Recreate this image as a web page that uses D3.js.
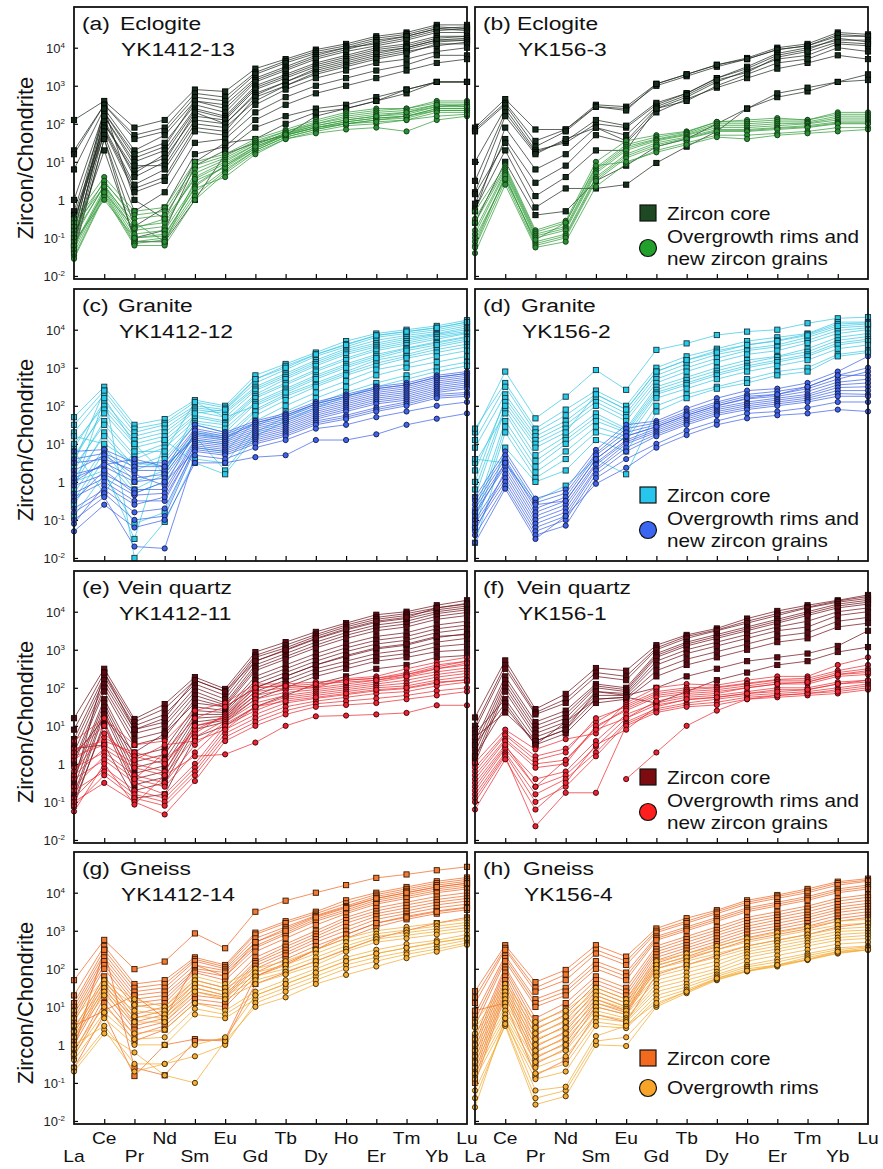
<!DOCTYPE html>
<html>
<head>
<meta charset="utf-8">
<script src="https://cdn.jsdelivr.net/npm/d3@7"></script>
<style>
body { margin: 0; background: #fff; }
svg { display: block; }
</style>
</head>
<body>
<svg id="chart" width="883" height="1169"></svg>
<script>
// REE order on the x axis
var elements = ['La', 'Ce', 'Pr', 'Nd', 'Sm', 'Eu', 'Gd', 'Tb', 'Dy', 'Ho', 'Er', 'Tm', 'Yb', 'Lu'];
var yTicks = [1e-2, 1e-1, 1, 1e1, 1e2, 1e3, 1e4];
var yTickExp = ['-2', '-1', '', '1', '2', '3', '4'];

// values are log10(zircon/chondrite), one row per analysis
var aCore = [
  [2.1, 2.6, 1.9, 2.1, 2.9, 2.85, 3.45, 3.7, 3.95, 4.1, 4.3, 4.4, 4.6, 4.6],
  [1.3, 2.5, 1.7, 1.9, 2.8, 2.7, 3.35, 3.65, 3.9, 4.05, 4.25, 4.35, 4.55, 4.5],
  [1.2, 2.5, 1.6, 1.8, 2.7, 2.6, 3.3, 3.6, 3.85, 4.0, 4.2, 4.3, 4.5, 4.55],
  [0.8, 2.4, 1.3, 1.7, 2.6, 2.5, 3.2, 3.5, 3.8, 4.0, 4.1, 4.25, 4.45, 4.5],
  [-0.9, 2.3, 1.1, 1.4, 2.6, 2.4, 3.15, 3.45, 3.75, 3.95, 4.15, 4.3, 4.5, 4.45],
  [0.0, 2.3, 1.2, 1.5, 2.5, 2.3, 3.1, 3.4, 3.7, 3.9, 4.05, 4.2, 4.4, 4.4],
  [-0.3, 2.2, 1.0, 1.3, 2.4, 2.2, 3.0, 3.3, 3.6, 3.8, 4.0, 4.1, 4.3, 4.3],
  [-1.1, 2.0, 0.7, 1.2, 2.35, 2.15, 2.95, 3.25, 3.55, 3.75, 3.95, 4.05, 4.25, 4.3],
  [-0.6, 2.0, 0.8, 1.1, 2.2, 2.1, 2.9, 3.2, 3.5, 3.7, 3.9, 4.0, 4.2, 4.25],
  [-0.8, 2.1, 0.6, 1.0, 2.3, 2.0, 2.8, 3.1, 3.4, 3.6, 3.8, 3.95, 4.15, 4.2],
  [-1.2, 2.2, 0.9, 0.9, 2.1, 2.0, 2.75, 3.1, 3.45, 3.65, 3.85, 4.0, 4.2, 4.2],
  [-0.4, 1.85, 0.3, 0.6, 1.9, 1.8, 2.7, 3.0, 3.35, 3.55, 3.75, 3.9, 4.05, 4.15],
  [-1.0, 1.9, 0.4, 0.8, 2.0, 1.9, 2.6, 3.0, 3.3, 3.5, 3.7, 3.85, 4.1, 4.1],
  [-1.2, 1.8, 0.2, 0.5, 1.8, 1.7, 2.5, 2.9, 3.2, 3.4, 3.6, 3.7, 3.9, 4.0],
  [-0.5, 1.7, -0.3, 0.2, 1.5, 1.6, 2.3, 2.7, 3.0, 3.2, 3.4, 3.55, 3.8, 3.8],
  [-1.3, 1.6, -0.7, -0.2, 1.2, 1.4, 2.1, 2.5, 2.8, 3.0, 3.2, 3.4, 3.6, 3.7],
  [-1.0, 1.3, -1.0, -0.8, 0.9, 1.3, 1.9, 2.2, 2.4, 2.5, 2.7, 2.9, 3.1, 3.1],
  [-1.4, 1.6, -1.1, -1.1, 0.0, 1.2, 1.5, 1.7, 2.2, 2.4, 2.6, 2.8, 3.1, 3.1],
  [-0.7, 2.4, 0.0, -0.5, 1.0, 1.5, 1.6, 2.0, 2.3, 2.4, 2.6, 2.9, 3.1, 3.1]
];
var aRim = [
  [-0.5, 0.6, -0.3, -0.2, 1.0, 1.2, 1.6, 1.85, 2.1, 2.3, 2.4, 2.4, 2.6, 2.6],
  [-0.6, 0.45, -0.4, -0.3, 0.9, 1.15, 1.55, 1.8, 2.05, 2.25, 2.35, 2.4, 2.55, 2.55],
  [-0.8, 0.5, -0.5, -0.4, 0.8, 1.1, 1.5, 1.8, 2.0, 2.2, 2.3, 2.35, 2.5, 2.5],
  [-0.9, 0.35, -0.8, -0.7, 0.7, 1.05, 1.45, 1.75, 2.0, 2.15, 2.25, 2.3, 2.45, 2.5],
  [-1.0, 0.4, -0.7, -0.6, 0.6, 1.0, 1.45, 1.75, 1.95, 2.1, 2.2, 2.25, 2.45, 2.45],
  [-1.2, 0.3, -0.9, -0.8, 0.4, 0.9, 1.4, 1.7, 1.9, 2.05, 2.15, 2.2, 2.4, 2.4],
  [-1.3, 0.25, -1.0, -0.95, 0.35, 0.9, 1.35, 1.7, 1.9, 2.05, 2.15, 2.2, 2.4, 2.4],
  [-1.4, 0.2, -1.1, -1.0, 0.2, 0.8, 1.3, 1.65, 1.85, 2.0, 2.1, 2.15, 2.35, 2.35],
  [-1.5, 0.15, -1.15, -1.05, 0.1, 0.75, 1.3, 1.65, 1.85, 2.0, 2.1, 2.2, 2.35, 2.35],
  [-1.55, 0.1, -1.2, -1.2, 0.0, 0.7, 1.25, 1.6, 1.8, 1.95, 2.0, 2.1, 2.3, 2.3],
  [-1.1, 0.0, -1.0, -0.9, 0.3, 0.6, 1.2, 1.6, 1.75, 1.85, 1.9, 1.8, 2.1, 2.2],
  [-0.7, 0.35, -0.6, -1.1, 0.5, 0.85, 1.35, 1.7, 1.9, 2.0, 2.05, 2.1, 2.2, 2.25],
  [-1.2, 0.2, -0.75, -0.5, 0.55, 0.95, 1.4, 1.72, 1.95, 2.1, 2.2, 2.3, 2.5, 2.45]
];
var bCore = [
  [1.9, 2.65, 1.85, 1.85, 2.5, 2.45, 3.05, 3.3, 3.55, 3.73, 4.0, 4.1, 4.4, 4.35],
  [1.85, 2.55, 1.55, 1.85, 2.45, 2.4, 3.0, 3.25, 3.5, 3.7, 3.95, 4.05, 4.3, 4.3],
  [1.8, 2.5, 1.4, 1.8, 2.45, 2.35, 3.05, 3.3, 3.55, 3.7, 3.95, 4.05, 4.35, 4.3],
  [1.0, 2.4, 1.3, 1.5, 2.0, 1.9, 2.5, 2.8, 3.2, 3.5, 3.85, 4.0, 4.2, 4.2],
  [0.5, 2.3, 1.25, 1.55, 2.1, 1.95, 2.55, 2.8, 3.2, 3.45, 3.8, 3.95, 4.25, 4.15],
  [0.2, 2.2, 1.2, 1.6, 1.9, 1.55, 2.4, 2.7, 3.1, 3.4, 3.7, 3.8, 4.1, 4.05],
  [-0.3, 1.9, 0.8, 1.2, 1.9, 1.7, 2.45, 2.75, 3.15, 3.35, 3.75, 3.9, 4.15, 4.1],
  [-0.1, 1.6, 0.45, 0.9, 1.7, 1.5, 2.3, 2.65, 2.95, 3.2, 3.45, 3.6, 3.8, 3.7],
  [0.15, 1.5, 0.1, 0.6, 1.3, 1.3, 2.4, 2.6, 3.0, 3.3, 3.6, 3.7, 4.0, 3.9],
  [-0.25, 1.3, -0.2, 0.3, 0.3, 0.4, 0.97, 1.4, 1.8, 2.4, 2.7, 2.85, 3.1, 3.3],
  [-0.6, 1.0, -0.4, -0.3, 0.5, 0.9, 1.4, 1.6, 2.0, 2.4, 2.8, 2.95, 3.1, 3.15]
];
var bRim = [
  [-0.3, 0.9, -0.8, -0.55, 1.0, 1.55, 1.7, 1.8, 2.05, 2.1, 2.15, 2.1, 2.3, 2.3],
  [-0.5, 0.85, -0.85, -0.6, 0.85, 1.45, 1.65, 1.78, 2.05, 2.05, 2.1, 2.1, 2.25, 2.25],
  [-0.6, 0.8, -0.9, -0.7, 0.8, 1.4, 1.6, 1.75, 2.0, 2.0, 2.05, 2.05, 2.2, 2.2],
  [-0.8, 0.75, -0.95, -0.75, 0.75, 1.35, 1.58, 1.72, 1.95, 1.95, 2.0, 2.02, 2.15, 2.15],
  [-0.9, 0.7, -1.0, -0.8, 0.7, 1.3, 1.55, 1.7, 1.9, 1.9, 1.95, 2.0, 2.1, 2.1],
  [-1.1, 0.6, -1.1, -0.9, 0.6, 1.2, 1.5, 1.65, 1.85, 1.85, 1.9, 1.95, 2.05, 2.05],
  [-1.2, 0.65, -1.15, -0.95, 0.55, 1.15, 1.45, 1.62, 1.82, 1.82, 1.88, 1.92, 2.02, 2.02],
  [-1.25, 0.5, -1.2, -1.0, 0.5, 1.1, 1.4, 1.6, 1.8, 1.8, 1.85, 1.9, 2.0, 2.0],
  [-1.4, 0.4, -1.25, -1.1, 0.35, 0.95, 1.3, 1.5, 1.7, 1.7, 1.75, 1.8, 1.9, 1.9],
  [-1.0, 0.55, -1.05, -0.6, 0.9, 1.0, 1.25, 1.45, 1.65, 1.6, 1.7, 1.75, 1.8, 1.85]
];
var cCore = [
  [1.7, 2.5, 1.5, 1.65, 2.15, 2.0, 2.8, 3.1, 3.4, 3.7, 3.9, 4.0, 4.1, 4.25],
  [1.5, 2.4, 1.4, 1.55, 2.1, 1.95, 2.7, 3.05, 3.35, 3.62, 3.85, 3.95, 4.05, 4.2],
  [1.3, 2.3, 1.3, 1.5, 2.0, 1.9, 2.6, 2.95, 3.3, 3.55, 3.8, 3.9, 4.0, 4.15],
  [0.9, 2.1, 1.2, 1.4, 1.95, 1.85, 2.5, 2.85, 3.2, 3.5, 3.72, 3.85, 3.95, 4.1],
  [1.0, 2.0, 1.1, 1.3, 1.9, 1.8, 2.45, 2.8, 3.15, 3.45, 3.65, 3.8, 3.9, 4.05],
  [0.6, 1.9, 1.0, 1.2, 1.85, 1.7, 2.4, 2.75, 3.1, 3.4, 3.6, 3.75, 3.88, 4.0],
  [0.7, 1.8, 0.9, 1.1, 1.75, 1.6, 2.3, 2.7, 3.05, 3.35, 3.55, 3.7, 3.85, 3.95],
  [0.3, 1.6, 0.7, 1.0, 1.7, 1.55, 2.25, 2.6, 2.95, 3.25, 3.5, 3.65, 3.8, 3.92],
  [0.4, 1.5, 0.6, 0.9, 1.6, 1.5, 2.2, 2.55, 2.9, 3.2, 3.45, 3.6, 3.75, 3.9],
  [-0.1, 1.3, 0.4, 0.7, 1.55, 1.4, 2.1, 2.45, 2.8, 3.1, 3.35, 3.52, 3.68, 3.82],
  [0.1, 1.2, 0.3, 0.6, 1.5, 1.3, 2.05, 2.4, 2.75, 3.05, 3.3, 3.5, 3.65, 3.8],
  [-0.3, 0.9, 0.0, 0.3, 1.3, 1.2, 1.9, 2.3, 2.6, 2.9, 3.2, 3.35, 3.55, 3.7],
  [-0.5, 0.8, -0.2, 0.2, 1.25, 1.1, 1.85, 2.25, 2.55, 2.85, 3.12, 3.3, 3.48, 3.62],
  [-0.6, 0.6, -0.3, 0.0, 1.1, 1.0, 1.75, 2.15, 2.5, 2.8, 3.05, 3.25, 3.4, 3.55],
  [-0.9, 0.2, -1.1, -0.8, 0.9, 0.8, 1.6, 2.0, 2.35, 2.65, 2.95, 3.1, 3.3, 3.45],
  [0.5, 2.4, -2.0, -1.05, 0.6, 0.5, 1.45, 1.85, 2.2, 2.5, 2.8, 3.0, 3.15, 3.3],
  [1.2, 1.0, 0.5, 0.4, 1.2, 0.3, 1.3, 1.7, 2.05, 2.35, 2.6, 2.8, 3.0, 3.15],
  [0.0, 0.3, -1.5, 1.1, 0.5, 0.2, 1.2, 1.6, 1.95, 2.25, 2.5, 2.7, 2.9, 3.05],
  [-0.2, 2.2, 1.0, 0.2, 1.8, 1.9, 2.7, 3.0, 3.35, 3.6, 3.85, 3.95, 4.05, 4.2],
  [0.8, -0.3, 0.8, 0.8, 2.1, 1.7, 2.0, 2.35, 2.7, 3.0, 3.25, 3.45, 3.6, 3.75]
];
var cRim = [
  [0.8, 0.85, 0.5, 0.5, 1.5, 1.3, 1.6, 1.8, 2.1, 2.3, 2.5, 2.6, 2.8, 2.9],
  [0.6, 0.75, 0.4, 0.4, 1.4, 1.25, 1.55, 1.75, 2.05, 2.25, 2.45, 2.55, 2.75, 2.85],
  [0.3, 0.7, 0.2, -0.1, 1.3, 1.15, 1.55, 1.75, 2.05, 2.25, 2.45, 2.55, 2.75, 2.85],
  [0.5, 0.6, 0.3, 0.3, 1.35, 1.2, 1.5, 1.7, 2.0, 2.2, 2.4, 2.5, 2.7, 2.8],
  [0.0, 0.5, 0.1, 0.2, 1.25, 1.15, 1.45, 1.65, 1.95, 2.15, 2.35, 2.45, 2.65, 2.75],
  [0.2, 0.4, 0.0, 0.1, 1.2, 1.1, 1.4, 1.6, 1.9, 2.1, 2.3, 2.4, 2.6, 2.7],
  [0.1, 0.45, 0.6, 0.4, 1.15, 1.05, 1.35, 1.55, 1.85, 2.05, 2.25, 2.35, 2.55, 2.65],
  [-0.1, 0.2, -0.2, -0.2, 1.1, 1.0, 1.3, 1.5, 1.8, 2.0, 2.2, 2.3, 2.5, 2.6],
  [-0.3, 0.1, -0.35, -0.3, 1.05, 0.95, 1.25, 1.45, 1.75, 1.95, 2.15, 2.25, 2.45, 2.55],
  [-0.4, 0.0, -0.5, -0.5, 1.0, 0.9, 1.2, 1.4, 1.7, 1.9, 2.1, 2.2, 2.4, 2.5],
  [-1.1, -0.1, -0.6, -0.4, 0.95, 0.85, 1.15, 1.35, 1.65, 1.85, 2.05, 2.15, 2.35, 2.45],
  [-0.7, -0.2, -0.8, -0.7, 0.9, 0.8, 1.1, 1.3, 1.6, 1.75, 1.95, 2.1, 2.3, 2.35],
  [-0.8, -0.3, -1.0, -0.9, 0.85, 0.75, 1.05, 1.25, 1.55, 1.7, 1.9, 2.05, 2.25, 2.3],
  [-0.5, 0.3, -0.3, 0.0, 0.8, 0.7, 1.0, 1.2, 1.5, 1.65, 1.85, 2.0, 2.2, 2.25],
  [-1.0, -0.4, -1.7, -1.75, 0.7, 0.6, 0.9, 1.1, 1.4, 1.5, 1.7, 1.85, 2.0, 2.1],
  [-1.3, -0.6, -1.2, -1.0, 0.5, 0.5, 0.65, 0.7, 1.1, 1.1, 1.25, 1.5, 1.66, 1.8]
];
var dCore = [
  [1.3, 2.9, 1.67, 2.24, 2.94, 2.42, 3.47, 3.64, 3.86, 3.95, 4.0, 4.17, 4.3, 4.33],
  [1.4, 2.6, 1.4, 1.9, 2.4, 2.0, 3.0, 3.3, 3.5, 3.7, 3.8, 3.9, 4.2, 4.2],
  [1.1, 2.5, 1.3, 1.75, 2.3, 1.9, 2.9, 3.2, 3.45, 3.6, 3.72, 3.88, 4.15, 4.18],
  [0.9, 2.3, 1.2, 1.6, 2.2, 1.8, 2.8, 3.1, 3.35, 3.5, 3.6, 3.8, 4.05, 4.1],
  [0.0, 2.2, 1.1, 1.5, 2.1, 1.7, 2.7, 3.0, 3.25, 3.45, 3.55, 3.72, 3.98, 4.05],
  [0.3, 2.1, 1.0, 1.4, 2.0, 1.6, 2.6, 2.9, 3.15, 3.35, 3.45, 3.65, 3.9, 4.0],
  [-0.4, 1.9, 0.7, 1.2, 1.8, 1.4, 2.5, 2.75, 3.0, 3.2, 3.3, 3.5, 3.8, 3.9],
  [0.5, 1.8, 0.55, 1.1, 1.7, 1.35, 2.42, 2.68, 2.92, 3.12, 3.28, 3.42, 3.72, 3.82],
  [-0.8, 1.6, 0.4, 1.0, 1.6, 1.3, 2.35, 2.6, 2.85, 3.05, 3.2, 3.35, 3.65, 3.75],
  [-1.0, 1.45, 0.25, 0.8, 1.45, 1.2, 2.3, 2.55, 2.8, 3.0, 3.15, 3.3, 3.6, 3.7],
  [-1.2, 1.3, 0.1, 0.6, 1.3, 1.1, 2.2, 2.45, 2.7, 2.9, 3.05, 3.2, 3.5, 3.6],
  [-1.6, 0.9, 0.0, 0.3, 1.1, 0.8, 2.0, 2.3, 2.5, 2.7, 2.9, 3.0, 3.35, 3.45],
  [0.6, 0.5, -0.5, -0.1, 0.6, 0.2, 1.85, 2.2, 2.45, 2.6, 2.8, 2.9, 3.3, 3.4],
  [-0.2, 2.0, 0.9, 1.3, 2.3, 1.9, 2.9, 3.2, 3.4, 3.6, 3.7, 3.85, 4.1, 4.15]
];
var dRim = [
  [-0.4, 0.8, -0.44, -0.2, 0.84, 1.5, 1.6, 1.93, 2.2, 2.4, 2.45, 2.6, 2.9, 3.3],
  [-0.5, 0.7, -0.55, -0.3, 0.75, 1.4, 1.55, 1.85, 2.1, 2.3, 2.38, 2.5, 2.8, 3.0],
  [-0.6, 0.6, -0.7, -0.4, 0.7, 1.3, 1.5, 1.8, 2.05, 2.25, 2.3, 2.45, 2.7, 2.9],
  [-0.7, 0.5, -0.8, -0.5, 0.6, 1.2, 1.45, 1.75, 2.0, 2.18, 2.25, 2.38, 2.62, 2.7],
  [-0.8, 0.4, -0.9, -0.6, 0.5, 1.1, 1.4, 1.7, 1.95, 2.1, 2.2, 2.3, 2.55, 2.6],
  [-1.3, 0.3, -1.0, -0.7, 0.45, 1.05, 1.35, 1.65, 1.9, 2.05, 2.15, 2.25, 2.48, 2.5],
  [-1.0, 0.2, -1.1, -0.8, 0.35, 1.0, 1.3, 1.6, 1.85, 2.0, 2.1, 2.2, 2.4, 2.4],
  [-1.1, 0.1, -1.2, -0.9, 0.3, 0.9, 1.25, 1.55, 1.8, 1.95, 2.05, 2.15, 2.32, 2.3],
  [-1.2, 0.0, -1.3, -1.0, 0.2, 0.8, 1.2, 1.5, 1.75, 1.9, 2.0, 2.1, 2.25, 2.25],
  [-1.4, -0.1, -1.4, -1.15, 0.1, 0.6, 1.0, 1.35, 1.6, 1.8, 1.85, 1.95, 2.1, 2.1],
  [-1.6, -0.18, -1.5, -0.9, -0.05, 0.37, 0.9, 1.23, 1.5, 1.67, 1.75, 1.8, 1.9, 1.85],
  [-0.9, 0.5, -0.6, -0.5, 0.6, 1.2, 1.45, 1.75, 2.0, 2.2, 2.3, 2.5, 2.8, 2.8]
];
var eCore = [
  [1.2, 2.5, 1.18, 1.57, 2.28, 1.97, 2.94, 3.2, 3.47, 3.7, 3.92, 4.0, 4.17, 4.3],
  [0.9, 2.4, 1.1, 1.45, 2.2, 1.9, 2.85, 3.12, 3.4, 3.65, 3.85, 3.95, 4.1, 4.22],
  [0.65, 2.3, 1.0, 1.3, 2.1, 1.8, 2.8, 3.05, 3.35, 3.6, 3.8, 3.9, 4.05, 4.15],
  [0.5, 2.2, 0.9, 1.1, 2.0, 1.7, 2.7, 2.98, 3.28, 3.52, 3.72, 3.82, 4.0, 4.1],
  [0.3, 2.1, 0.8, 1.0, 1.9, 1.6, 2.6, 2.9, 3.2, 3.45, 3.65, 3.75, 3.95, 4.05],
  [0.1, 2.0, 0.65, 0.85, 1.8, 1.55, 2.52, 2.82, 3.12, 3.38, 3.58, 3.68, 3.88, 3.98],
  [0.0, 1.9, 0.5, 0.7, 1.7, 1.5, 2.45, 2.75, 3.05, 3.3, 3.5, 3.6, 3.8, 3.9],
  [-0.3, 1.7, 0.2, 0.4, 1.5, 1.4, 2.3, 2.6, 2.9, 3.15, 3.35, 3.45, 3.65, 3.75],
  [-0.4, 1.6, 0.05, 0.25, 1.4, 1.35, 2.2, 2.5, 2.8, 3.05, 3.25, 3.35, 3.55, 3.65],
  [-0.6, 1.5, -0.1, 0.1, 1.3, 1.3, 2.1, 2.4, 2.7, 2.95, 3.15, 3.25, 3.45, 3.55],
  [-0.8, 1.4, -0.25, -0.05, 1.2, 1.25, 2.0, 2.3, 2.6, 2.82, 3.02, 3.12, 3.32, 3.42],
  [-0.9, 1.3, -0.4, -0.2, 1.1, 1.2, 1.9, 2.2, 2.5, 2.7, 2.9, 3.0, 3.2, 3.3],
  [-1.1, 1.1, -0.55, -0.35, 1.0, 1.15, 1.8, 2.1, 2.4, 2.6, 2.8, 2.9, 3.08, 3.15],
  [-1.0, 1.0, -0.7, -0.5, 0.9, 1.1, 1.7, 2.0, 2.3, 2.5, 2.7, 2.8, 2.95, 3.0],
  [0.4, 0.5, -0.9, -0.8, 0.7, 1.0, 1.5, 1.8, 2.1, 2.3, 2.5, 2.6, 2.8, 2.85],
  [-0.5, 2.4, 0.9, 1.2, 2.2, 1.9, 2.7, 3.0, 3.3, 3.55, 3.75, 3.85, 4.1, 4.2],
  [0.2, 1.2, 0.3, 0.8, 1.6, 1.5, 2.0, 2.3, 2.6, 2.85, 3.05, 3.15, 3.35, 3.4]
];
var eRim = [
  [0.6, 1.2, 0.5, 0.6, 1.4, 1.6, 2.1, 2.1, 2.15, 2.2, 2.25, 2.35, 2.55, 2.7],
  [0.4, 0.6, 0.3, 0.1, 0.8, 1.3, 2.0, 2.07, 2.0, 2.24, 2.3, 2.5, 2.67, 2.8],
  [0.1, 0.7, 0.2, 0.0, 0.9, 1.25, 1.9, 2.0, 2.05, 2.2, 2.25, 2.4, 2.6, 2.7],
  [0.2, 0.5, 0.0, -0.2, 1.0, 1.2, 1.8, 1.95, 2.0, 2.1, 2.2, 2.35, 2.5, 2.6],
  [-0.3, 0.4, -0.1, -0.3, 0.7, 1.15, 1.7, 1.88, 1.95, 2.05, 2.15, 2.28, 2.42, 2.52],
  [-0.1, 0.3, -0.3, -0.5, 0.5, 1.1, 1.6, 1.8, 1.9, 2.0, 2.1, 2.2, 2.35, 2.45],
  [-0.6, 0.2, -0.4, -0.6, 0.3, 1.05, 1.5, 1.75, 1.85, 1.95, 2.05, 2.12, 2.28, 2.38],
  [-0.4, 0.1, -0.5, -0.8, 0.0, 1.0, 1.4, 1.7, 1.8, 1.9, 2.0, 2.05, 2.2, 2.3],
  [-0.9, -0.1, -0.7, -0.9, -0.1, 0.9, 1.3, 1.6, 1.72, 1.82, 1.92, 1.98, 2.12, 2.22],
  [-0.7, -0.2, -0.8, -1.0, -0.2, 0.8, 1.2, 1.5, 1.65, 1.75, 1.85, 1.9, 2.05, 2.15],
  [-1.1, -0.3, -0.9, -1.1, -0.3, 0.7, 1.1, 1.4, 1.58, 1.65, 1.72, 1.8, 1.92, 2.0],
  [-1.0, -0.5, -1.0, -1.33, -0.45, 0.6, 1.0, 1.3, 1.5, 1.55, 1.6, 1.7, 1.8, 1.9],
  [-1.25, 0.0, -1.07, -0.3, 0.2, 0.25, 0.56, 1.0, 1.25, 1.27, 1.3, 1.34, 1.54, 1.54],
  [0.3, 1.0, -0.4, 0.3, 1.2, 1.5, 2.0, 2.05, 2.1, 2.15, 2.2, 2.3, 2.5, 2.65],
  [-0.2, 0.8, 0.1, 0.5, 0.6, 0.9, 1.5, 1.65, 1.75, 1.85, 1.95, 2.0, 2.15, 2.2]
];
var fCore = [
  [1.22, 2.72, 1.44, 1.84, 2.52, 2.45, 3.12, 3.39, 3.56, 3.82, 4.02, 4.17, 4.3, 4.44],
  [1.0, 2.6, 1.35, 1.7, 2.4, 2.3, 3.05, 3.35, 3.52, 3.75, 3.95, 4.12, 4.28, 4.4],
  [0.9, 2.5, 1.3, 1.6, 2.3, 2.2, 3.0, 3.3, 3.5, 3.7, 3.9, 4.1, 4.25, 4.35],
  [0.6, 2.3, 1.1, 1.4, 2.1, 2.0, 2.9, 3.2, 3.4, 3.6, 3.8, 4.0, 4.2, 4.3],
  [0.45, 2.2, 1.0, 1.3, 2.05, 1.95, 2.85, 3.15, 3.35, 3.55, 3.75, 3.95, 4.15, 4.25],
  [0.3, 2.1, 0.9, 1.2, 2.0, 1.9, 2.8, 3.1, 3.3, 3.5, 3.7, 3.9, 4.1, 4.2],
  [0.15, 2.0, 0.8, 1.1, 1.9, 1.85, 2.7, 3.0, 3.2, 3.4, 3.6, 3.75, 4.0, 4.1],
  [0.03, 1.9, 0.7, 1.0, 1.8, 1.8, 2.6, 2.9, 3.1, 3.3, 3.5, 3.6, 3.9, 4.0],
  [0.8, 1.7, 0.6, 0.9, 1.7, 1.75, 2.45, 2.75, 2.95, 3.15, 3.35, 3.45, 3.75, 3.85],
  [0.5, 1.6, 0.5, 0.8, 1.6, 1.7, 2.3, 2.6, 2.8, 3.0, 3.2, 3.3, 3.6, 3.7],
  [0.7, 1.35, 0.6, 0.9, 1.9, 1.8, 2.0, 2.3, 2.5, 2.7, 2.8, 2.9, 3.1, 3.5],
  [0.2, 1.5, 0.5, 1.1, 1.7, 1.75, 1.6, 1.9, 2.2, 2.4, 2.6, 2.7, 2.94, 3.07]
];
var fRim = [
  [0.03, 0.9, 0.38, 0.65, 0.8, 1.6, 2.0, 2.1, 2.07, 2.2, 2.3, 2.3, 2.6, 2.8],
  [-0.1, 0.8, 0.2, 0.4, 1.1, 1.55, 1.9, 2.0, 2.02, 2.12, 2.22, 2.25, 2.45, 2.6],
  [-0.2, 0.75, 0.1, 0.3, 1.2, 1.5, 1.85, 1.95, 2.0, 2.1, 2.2, 2.2, 2.4, 2.5],
  [-0.3, 0.65, 0.0, 0.1, 0.95, 1.45, 1.8, 1.9, 1.95, 2.05, 2.15, 2.15, 2.35, 2.45],
  [-0.4, 0.6, -0.1, 0.0, 1.0, 1.4, 1.75, 1.85, 1.9, 2.0, 2.1, 2.1, 2.3, 2.35],
  [-0.6, 0.45, -0.4, -0.2, 0.6, 1.3, 1.6, 1.75, 1.8, 1.9, 2.0, 2.0, 2.15, 2.2],
  [-0.7, 0.4, -0.6, -0.3, 0.45, 1.2, 1.55, 1.68, 1.75, 1.85, 1.95, 1.95, 2.1, 2.15],
  [-0.8, 0.3, -0.8, -0.4, 0.3, 1.1, 1.45, 1.6, 1.7, 1.8, 1.85, 1.9, 2.0, 2.1],
  [-0.9, 0.25, -1.0, -0.6, 0.2, 1.05, 1.4, 1.55, 1.62, 1.75, 1.8, 1.85, 1.95, 2.05],
  [-1.0, 0.2, -1.64, -0.76, -0.76, 1.0, 1.35, 1.5, 1.55, 1.7, 1.75, 1.8, 1.85, 1.95],
  [null, null, null, null, null, -0.4, 0.3, 1.0, 1.4, 1.7, 1.8, 1.85, 1.9, 2.0],
  [-0.5, 0.5, -0.6, 0.1, 0.9, 1.2, 1.65, 1.8, 1.85, 2.0, 2.1, 2.15, 2.35, 2.4],
  [-1.2, 0.12, -1.2, -0.5, 0.5, 0.9, 1.5, 1.7, 1.75, 1.85, 1.9, 1.95, 2.1, 2.2]
];
var gCore = [
  [1.7, 2.76, 1.99, 2.19, 2.93, 2.54, 3.5, 3.79, 4.0, 4.2, 4.39, 4.48, 4.59, 4.68],
  [1.3, 2.6, 1.6, 1.7, 2.3, 2.1, 2.95, 3.25, 3.5, 3.8, 4.0, 4.15, 4.3, 4.4],
  [1.1, 2.5, 1.5, 1.6, 2.25, 2.05, 2.9, 3.2, 3.45, 3.72, 3.95, 4.1, 4.25, 4.35],
  [1.0, 2.4, 1.4, 1.5, 2.2, 2.0, 2.8, 3.1, 3.4, 3.65, 3.9, 4.05, 4.2, 4.3],
  [0.9, 2.3, 1.3, 1.4, 2.1, 1.95, 2.7, 3.05, 3.38, 3.62, 3.85, 4.0, 4.15, 4.25],
  [0.8, 2.2, 1.2, 1.3, 2.0, 1.9, 2.6, 2.95, 3.3, 3.55, 3.8, 3.95, 4.1, 4.2],
  [0.7, 2.1, 1.1, 1.2, 1.95, 1.8, 2.55, 2.9, 3.25, 3.5, 3.75, 3.9, 4.05, 4.15],
  [0.6, 2.0, 1.0, 1.1, 1.9, 1.7, 2.45, 2.8, 3.15, 3.45, 3.7, 3.85, 4.0, 4.1],
  [0.4, 1.8, 0.8, 1.0, 1.7, 1.5, 2.3, 2.65, 3.0, 3.35, 3.6, 3.75, 3.9, 4.0],
  [0.3, 1.7, 0.7, 0.9, 1.6, 1.4, 2.2, 2.58, 2.92, 3.28, 3.52, 3.68, 3.82, 3.92],
  [0.2, 1.6, 0.6, 0.8, 1.5, 1.3, 2.15, 2.5, 2.85, 3.2, 3.45, 3.6, 3.75, 3.85],
  [0.1, 1.5, 0.5, 0.7, 1.4, 1.25, 2.08, 2.42, 2.78, 3.1, 3.38, 3.52, 3.68, 3.78],
  [0.0, 1.4, 0.4, 0.6, 1.3, 1.2, 2.0, 2.35, 2.7, 3.0, 3.3, 3.45, 3.6, 3.7],
  [-0.2, 1.25, 0.25, 0.5, 1.2, 1.1, 1.9, 2.25, 2.6, 2.9, 3.2, 3.38, 3.52, 3.62],
  [-0.3, 1.1, 0.1, 0.4, 1.1, 1.0, 1.8, 2.15, 2.5, 2.8, 3.1, 3.3, 3.45, 3.55],
  [-0.6, 0.8, -0.82, 0.0, 0.15, 0.1, 1.6, 1.9, 2.2, 2.5, 2.8, 3.0, 3.2, 3.35],
  [0.5, 0.9, 1.3, 0.7, 2.1, 1.8, 2.7, 3.0, 3.35, 3.6, 3.85, 4.0, 4.15, 4.25],
  [-0.1, 2.5, -0.6, -0.8, 0.1, 0.15, 1.8, 2.1, 2.5, 2.9, 3.2, 3.35, 3.5, 3.6]
];
var gRim = [
  [0.9, 1.7, 1.2, 1.0, 1.8, 1.6, 2.0, 2.2, 2.5, 2.8, 3.0, 3.1, 3.2, 3.3],
  [0.7, 1.6, 1.05, 0.9, 1.7, 1.5, 1.9, 2.1, 2.4, 2.7, 2.92, 3.02, 3.12, 3.22],
  [0.5, 1.5, 0.9, 0.8, 1.6, 1.4, 1.8, 2.0, 2.3, 2.6, 2.85, 2.95, 3.05, 3.15],
  [0.35, 1.4, 0.75, 0.7, 1.5, 1.3, 1.7, 1.92, 2.2, 2.52, 2.78, 2.88, 2.98, 3.08],
  [0.2, 1.3, 0.6, 0.6, 1.4, 1.2, 1.6, 1.85, 2.1, 2.45, 2.7, 2.8, 2.9, 3.0],
  [-0.1, 1.0, 0.3, 0.4, 1.1, 0.9, 1.4, 1.7, 2.0, 2.3, 2.5, 2.65, 2.75, 2.9],
  [-0.25, 0.85, 0.15, 0.2, 0.95, 0.8, 1.3, 1.6, 1.9, 2.2, 2.4, 2.55, 2.68, 2.82],
  [-0.4, 0.7, 0.0, 0.0, 0.8, 0.7, 1.2, 1.5, 1.8, 2.1, 2.3, 2.45, 2.6, 2.75],
  [-0.6, 0.4, -0.7, -0.5, -0.3, 0.0, 1.1, 1.4, 1.7, 2.0, 2.2, 2.38, 2.52, 2.68],
  [-0.7, 0.3, -0.2, -0.8, -1.0, 0.1, 1.0, 1.25, 1.6, 1.84, 2.06, 2.28, 2.45, 2.63],
  [0.0, 0.5, -0.5, -0.5, 0.0, 0.2, 1.3, 1.6, 1.9, 2.2, 2.4, 2.55, 2.7, 2.8]
];
var hCore = [
  [1.41, 2.62, 1.65, 1.97, 2.62, 2.32, 3.06, 3.33, 3.54, 3.8, 3.94, 4.1, 4.29, 4.37],
  [1.25, 2.55, 1.5, 1.85, 2.5, 2.2, 3.0, 3.25, 3.5, 3.75, 3.9, 4.05, 4.25, 4.33],
  [1.1, 2.5, 1.4, 1.7, 2.4, 2.1, 2.95, 3.2, 3.45, 3.7, 3.85, 4.0, 4.2, 4.3],
  [0.8, 2.35, 1.2, 1.5, 2.2, 1.9, 2.85, 3.1, 3.35, 3.6, 3.75, 3.9, 4.1, 4.2],
  [0.65, 2.28, 1.1, 1.4, 2.1, 1.8, 2.8, 3.05, 3.3, 3.55, 3.7, 3.85, 4.05, 4.15],
  [0.5, 2.2, 1.0, 1.3, 2.0, 1.7, 2.75, 3.0, 3.25, 3.5, 3.65, 3.8, 4.0, 4.1],
  [0.2, 2.05, 0.7, 1.1, 1.8, 1.5, 2.6, 2.85, 3.1, 3.35, 3.5, 3.65, 3.85, 3.95],
  [0.05, 1.98, 0.55, 0.95, 1.7, 1.4, 2.52, 2.78, 3.02, 3.28, 3.42, 3.58, 3.78, 3.88],
  [-0.1, 1.9, 0.4, 0.8, 1.6, 1.3, 2.45, 2.7, 2.95, 3.2, 3.35, 3.5, 3.7, 3.8],
  [-0.25, 1.8, 0.25, 0.65, 1.5, 1.2, 2.38, 2.62, 2.88, 3.12, 3.28, 3.42, 3.62, 3.72],
  [-0.4, 1.7, 0.1, 0.5, 1.4, 1.1, 2.3, 2.55, 2.8, 3.05, 3.2, 3.35, 3.55, 3.65],
  [-0.55, 1.6, -0.05, 0.35, 1.3, 1.0, 2.22, 2.48, 2.72, 2.98, 3.12, 3.28, 3.48, 3.58],
  [-0.7, 1.5, -0.2, 0.2, 1.2, 0.9, 2.15, 2.4, 2.65, 2.9, 3.05, 3.2, 3.4, 3.5],
  [-0.85, 1.4, -0.35, 0.05, 1.1, 0.85, 2.08, 2.32, 2.58, 2.82, 2.98, 3.12, 3.32, 3.42],
  [-1.0, 1.3, -0.5, -0.1, 1.0, 0.8, 2.0, 2.25, 2.5, 2.75, 2.9, 3.05, 3.25, 3.35],
  [0.9, 1.1, -0.8, -0.4, 0.8, 0.6, 1.85, 2.1, 2.35, 2.6, 2.75, 2.9, 3.1, 3.2]
];
var hRim = [
  [0.6, 1.6, 0.6, 0.9, 1.5, 1.2, 2.2, 2.4, 2.6, 2.8, 2.95, 3.1, 3.25, 3.3],
  [0.45, 1.5, 0.45, 0.75, 1.4, 1.1, 2.1, 2.3, 2.5, 2.7, 2.85, 3.0, 3.15, 3.2],
  [0.3, 1.4, 0.3, 0.6, 1.3, 1.0, 2.0, 2.2, 2.4, 2.6, 2.75, 2.9, 3.05, 3.1],
  [0.15, 1.3, 0.15, 0.45, 1.2, 0.95, 1.9, 2.1, 2.3, 2.52, 2.68, 2.82, 2.98, 3.02],
  [0.0, 1.2, 0.0, 0.3, 1.1, 0.9, 1.8, 2.0, 2.2, 2.45, 2.6, 2.75, 2.9, 2.95],
  [-0.15, 1.1, -0.15, 0.15, 1.0, 0.8, 1.7, 1.9, 2.1, 2.38, 2.52, 2.68, 2.82, 2.88],
  [-0.3, 1.0, -0.3, 0.0, 0.9, 0.7, 1.6, 1.8, 2.0, 2.3, 2.45, 2.6, 2.75, 2.8],
  [-0.45, 0.9, -0.45, -0.15, 0.8, 0.65, 1.5, 1.7, 1.92, 2.2, 2.35, 2.5, 2.65, 2.7],
  [-0.6, 0.8, -0.6, -0.3, 0.7, 0.6, 1.4, 1.6, 1.85, 2.1, 2.25, 2.4, 2.55, 2.6],
  [-0.75, 0.7, -0.75, -0.5, 0.6, 0.5, 1.3, 1.52, 1.8, 2.05, 2.18, 2.35, 2.5, 2.58],
  [-0.9, 0.6, -0.9, -0.7, 0.5, 0.44, 1.2, 1.45, 1.75, 2.0, 2.1, 2.3, 2.45, 2.55],
  [-1.2, 0.5, -1.57, -1.35, 0.0, -0.03, 1.0, 1.36, 1.7, 1.93, 2.06, 2.23, 2.4, 2.5],
  [-1.4, 0.55, -1.4, -1.2, 0.1, 0.2, 1.05, 1.4, 1.72, 1.94, 2.08, 2.24, 2.42, 2.5],
  [-1.64, 0.7, -1.2, -1.1, 0.23, 0.5, 1.1, 1.4, 1.75, 1.95, 2.1, 2.25, 2.45, 2.5]
];

var panelLetters = ['(a)', '(b)', '(c)', '(d)', '(e)', '(f)', '(g)', '(h)'];
var rockNames = ['Eclogite', 'Eclogite', 'Granite', 'Granite', 'Vein quartz', 'Vein quartz', 'Gneiss', 'Gneiss'];
var sampleNames = ['YK1412-13', 'YK156-3', 'YK1412-12', 'YK156-2', 'YK1412-11', 'YK156-1', 'YK1412-14', 'YK156-4'];
var coreSets = [aCore, bCore, cCore, dCore, eCore, fCore, gCore, hCore];
var rimSets = [aRim, bRim, cRim, dRim, eRim, fRim, gRim, hRim];
var legendCore = 'Zircon core';
var legendRims = [['Overgrowth rims and', 'new zircon grains'], ['Overgrowth rims and', 'new zircon grains'],
                  ['Overgrowth rims and', 'new zircon grains'], ['Overgrowth rims']];
var yTitle = 'Zircon/Chondrite';

// colour scheme for each rock (row)
var styles = [
  { coreLine: '#1f2a1f', coreFill: '#12301a', coreStroke: '#000', rimLine: '#2f9a36', rimFill: '#2a8f34', rimStroke: '#103a14',
    legCore: '#1d4a22', legRim: '#22a02c' },
  { coreLine: '#38c8e4', coreFill: '#26cbe8', coreStroke: '#163642', rimLine: '#3d62e4', rimFill: '#3d64ea', rimStroke: '#141a4a',
    legCore: '#28c6ec', legRim: '#3b66f2' },
  { coreLine: '#6e1018', coreFill: '#5c0a12', coreStroke: '#220005', rimLine: '#ea2a30', rimFill: '#ec2230', rimStroke: '#3a0008',
    legCore: '#7c0c10', legRim: '#ff1e1e' },
  { coreLine: '#ef6620', coreFill: '#f27a32', coreStroke: '#3a1800', rimLine: '#f2a82c', rimFill: '#f8ae34', rimStroke: '#3a2400',
    legCore: '#f26a1e', legRim: '#f8a428' }
];

var FONT = 'Liberation Sans, Arial, sans-serif';
var svg = d3.select('#chart');
var colX = [[74, 467], [475, 868]];
var rowTop = [7, 289, 571, 852];
var panelH = 272;
var nameOffset = [46, 42, 44, 46, 44, 42, 46, 48];

// the original figure is stretched sideways, so text is widened a little
function wideText(sel, tx, ty, str, size, sx, anchor) {
  return sel.append('text')
    .attr('transform', 'translate(' + tx + ',' + ty + ') scale(' + sx + ',1)')
    .attr('text-anchor', anchor || 'start')
    .attr('font-family', FONT).attr('font-size', size).attr('fill', '#111')
    .text(str);
}

function drawPanel(p) {
  var row = Math.floor(p / 2), col = p % 2;
  var x0 = colX[col][0], x1 = colX[col][1];
  var y0 = rowTop[row], y1 = y0 + panelH;
  var st = styles[row];

  var x = d3.scalePoint().domain(elements).range([x0, x1]).padding(0);
  var y = d3.scaleLog().domain([Math.pow(10, -2.08), Math.pow(10, 5.07)]).range([y1, y0]);

  var g = svg.append('g');

  // y ticks (inward)
  g.append('g').attr('transform', 'translate(' + x0 + ',0)')
    .call(d3.axisLeft(y).tickValues(yTicks).tickSize(-4).tickFormat(''))
    .call(function (s) { s.select('.domain').remove(); s.selectAll('line').attr('stroke', '#000').attr('stroke-width', 1.2); });

  // x ticks (inward)
  g.append('g').attr('transform', 'translate(0,' + y1 + ')')
    .call(d3.axisBottom(x).tickValues(elements.slice(1, 13)).tickSize(-5).tickFormat(''))
    .call(function (s) { s.select('.domain').remove(); s.selectAll('line').attr('stroke', '#000').attr('stroke-width', 1.2); });

  // y tick labels only on the left column
  if (col === 0) {
    yTicks.forEach(function (v, i) {
      var t = g.append('text').attr('x', x0 - 9).attr('y', y(v) + 5)
        .attr('text-anchor', 'end').attr('font-family', FONT)
        .attr('font-size', 13).attr('fill', '#222');
      if (yTickExp[i] === '') {
        t.text('1');
      } else {
        t.append('tspan').text('10');
        t.append('tspan').attr('dy', -5).attr('font-size', 8).text(yTickExp[i]);
      }
    });
    g.append('text')
      .attr('transform', 'translate(33,' + (y0 + panelH / 2 + 15) + ') rotate(-90)')
      .attr('text-anchor', 'middle').attr('font-family', FONT)
      .attr('font-size', 22).attr('fill', '#111').text(yTitle);
  }

  var line = d3.line()
    .defined(function (v) { return v !== null; })
    .x(function (v, i) { return x(elements[i]); })
    .y(function (v) { return y(Math.pow(10, v)); });

  function drawSet(data, lineColor, shape, fill, stroke) {
    var sg = g.append('g');
    sg.selectAll('path.ree').data(data).enter().append('path')
      .attr('class', 'ree')
      .attr('d', line)
      .attr('fill', 'none').attr('stroke', lineColor).attr('stroke-width', 0.8).attr('opacity', 0.9);
    data.forEach(function (d) {
      d.forEach(function (v, i) {
        if (v === null) return;
        var cx = x(elements[i]), cy = y(Math.pow(10, v));
        if (shape === 'square') {
          sg.append('rect').attr('x', cx - 2.6).attr('y', cy - 2.6).attr('width', 5.2).attr('height', 5.2)
            .attr('fill', fill).attr('stroke', stroke).attr('stroke-width', 0.9);
        } else {
          sg.append('circle').attr('cx', cx).attr('cy', cy).attr('r', 2.6)
            .attr('fill', fill).attr('stroke', stroke).attr('stroke-width', 0.9);
        }
      });
    });
  }

  drawSet(coreSets[p], st.coreLine, 'square', st.coreFill, st.coreStroke);
  drawSet(rimSets[p], st.rimLine, 'circle', st.rimFill, st.rimStroke);

  // frame
  g.append('rect').attr('x', x0).attr('y', y0).attr('width', x1 - x0).attr('height', panelH)
    .attr('fill', 'none').attr('stroke', '#111').attr('stroke-width', 1.8);

  // titles
  wideText(g, x0 + 8, y0 + 23, panelLetters[p], 19, 1.2);
  wideText(g, x0 + nameOffset[p], y0 + 23, rockNames[p], 19, 1.2);
  wideText(g, x0 + nameOffset[p] + 1, y0 + 49, sampleNames[p], 19, 1.2);

  // legend in right column
  if (col === 1) {
    var lx = x0 + 173;
    var rimLines = legendRims[row];
    g.append('rect').attr('x', lx - 8).attr('y', y0 + 198).attr('width', 16).attr('height', 16)
      .attr('fill', st.legCore).attr('stroke', '#111').attr('stroke-width', 1.2);
    wideText(g, lx + 19, y0 + 213, legendCore, 18, 1.15);
    var cyc = rimLines.length === 2 ? y0 + 241 : y0 + 236;
    g.append('circle').attr('cx', lx).attr('cy', cyc).attr('r', 8.5)
      .attr('fill', st.legRim).attr('stroke', '#111').attr('stroke-width', 1.2);
    rimLines.forEach(function (s, i) {
      wideText(g, lx + 19, rimLines.length === 2 ? y0 + 236 + i * 22 : y0 + 242, s, 18, 1.15);
    });
  }

  // element labels under the bottom row
  if (row === 3) {
    elements.forEach(function (e, i) {
      wideText(g, x(e), i % 2 === 1 ? y1 + 20 : y1 + 38, e, 16, 1.2, 'middle');
    });
  }
}

for (var p = 0; p < 8; p++) {
  drawPanel(p);
}
</script>
</body>
</html>
